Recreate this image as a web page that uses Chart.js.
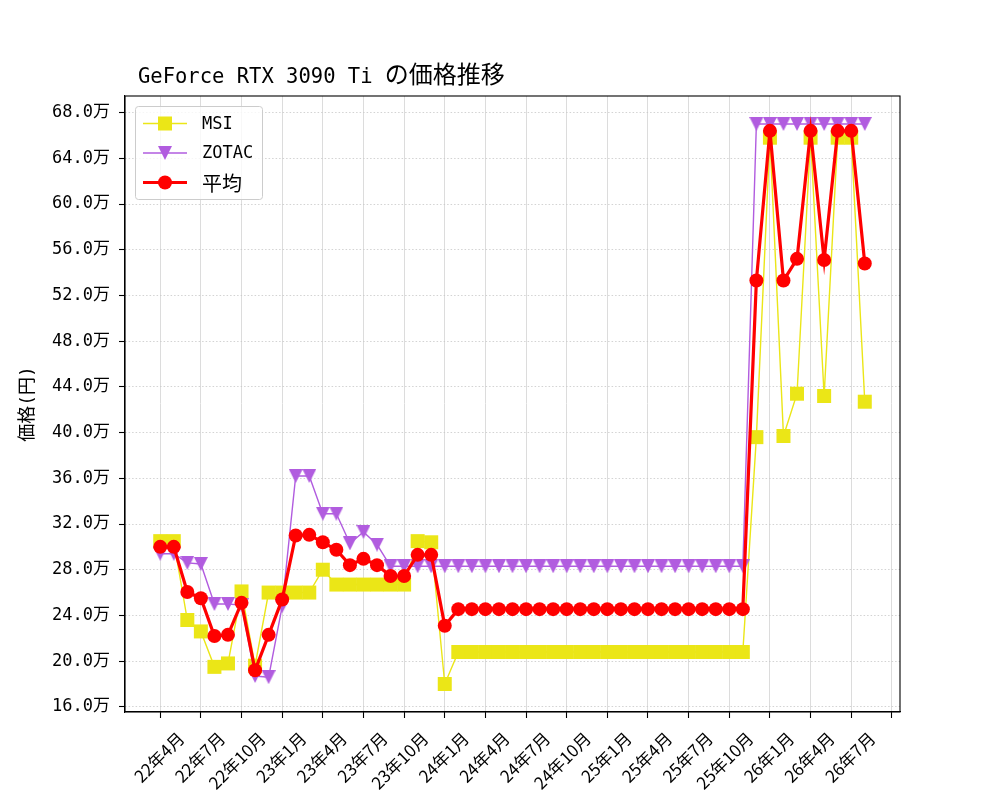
<!DOCTYPE html>
<html>
<head>
<meta charset="utf-8">
<script src="https://cdn.jsdelivr.net/npm/chart.js@4.4.1/dist/chart.umd.min.js"></script>
<style>
    html, body { margin: 0; padding: 0; background: #fff; }
</style>
</head>
<body>
<canvas id="priceChart" width="1000" height="800"></canvas>
<script>
// 月ごとのデータ（単位: 万円）
const months = [
    '2022-04', '2022-05', '2022-06', '2022-07', '2022-08', '2022-09', '2022-10', '2022-11', '2022-12',
    '2023-01', '2023-02', '2023-03', '2023-04', '2023-05', '2023-06', '2023-07', '2023-08', '2023-09',
    '2023-10', '2023-11', '2023-12', '2024-01', '2024-02', '2024-03', '2024-04', '2024-05', '2024-06',
    '2024-07', '2024-08', '2024-09', '2024-10', '2024-11', '2024-12', '2025-01', '2025-02', '2025-03',
    '2025-04', '2025-05', '2025-06', '2025-07', '2025-08', '2025-09', '2025-10', '2025-11', '2025-12',
    '2026-01', '2026-02', '2026-03', '2026-04', '2026-05', '2026-06', '2026-07', '2026-08'
];

const msiPrices = [
    30.5, 30.5, 23.6, 22.6, 19.5, 19.8, 26.1, 19.6, 26.0,
    26.0, 26.0, 26.0, 28.0, 26.7, 26.7, 26.7, 26.7, 26.7,
    26.7, 30.5, 30.4, 18.0, 20.8, 20.8, 20.8, 20.8, 20.8,
    20.8, 20.8, 20.8, 20.8, 20.8, 20.8, 20.8, 20.8, 20.8,
    20.8, 20.8, 20.8, 20.8, 20.8, 20.8, 20.8, 20.8, 39.6,
    65.8, 39.7, 43.4, 65.8, 43.2, 65.8, 65.8, 42.7
];

const zotacPrices = [
    29.4, 29.4, 28.6, 28.5, 25.0, 25.0, 24.9, 18.7, 18.6,
    24.8, 36.2, 36.2, 32.9, 32.9, 30.3, 31.3, 30.2, 28.3,
    28.3, 28.3, 28.3, 28.3, 28.3, 28.3, 28.3, 28.3, 28.3,
    28.3, 28.3, 28.3, 28.3, 28.3, 28.3, 28.3, 28.3, 28.3,
    28.3, 28.3, 28.3, 28.3, 28.3, 28.3, 28.3, 28.3, 67.0,
    67.0, 67.0, 67.0, 67.0, 67.0, 67.0, 67.0, 67.0
];

const avgPrices = [
    30.0, 30.0, 26.05, 25.5, 22.2, 22.3, 25.1, 19.2, 22.3,
    25.4, 31.0, 31.05, 30.4, 29.75, 28.4, 28.95, 28.4, 27.45,
    27.45, 29.3, 29.3, 23.1, 24.55, 24.55, 24.55, 24.55, 24.55,
    24.55, 24.55, 24.55, 24.55, 24.55, 24.55, 24.55, 24.55, 24.55,
    24.55, 24.55, 24.55, 24.55, 24.55, 24.55, 24.55, 24.55, 53.3,
    66.4, 53.3, 55.2, 66.4, 55.1, 66.4, 66.4, 54.8
];

const tickMonths = [
    '2022-04', '2022-07', '2022-10', '2023-01', '2023-04', '2023-07', '2023-10',
    '2024-01', '2024-04', '2024-07', '2024-10', '2025-01', '2025-04', '2025-07',
    '2025-10', '2026-01', '2026-04', '2026-07', '2026-10'
];
const tickLabels = [
    '22年4月', '22年7月', '22年10月', '23年1月', '23年4月', '23年7月', '23年10月',
    '24年1月', '24年4月', '24年7月', '24年10月', '25年1月', '25年4月', '25年7月',
    '25年10月', '26年1月', '26年4月', '26年7月', ''
];
const yTicks = [16, 20, 24, 28, 32, 36, 40, 44, 48, 52, 56, 60, 64, 68];

const chartTitle = 'GeForce RTX 3090 Ti の価格推移';
const yTitle = '価格(円)';

const MSI_COLOR = '#ebe617';
const ZOTAC_COLOR = '#b15cdf';
const AVG_COLOR = '#ff0000';
const MONO = '"DejaVu Sans Mono", "Noto Sans CJK JP"';
const CJK = '"Noto Sans CJK JP"';

const toIndex = s => {
    const [y, m] = s.split('-').map(Number);
    return (y - 2022) * 12 + (m - 4);
};
const toPoints = values => values.map((v, i) => ({ x: toIndex(months[i]), y: v }));

// matplotlib風の下向き三角マーカー
function makeTriangle(color, w, h) {
    const c = document.createElement('canvas');
    c.width = w;
    c.height = h;
    const g = c.getContext('2d');
    g.fillStyle = color;
    g.beginPath();
    g.moveTo(0, 0);
    g.lineTo(w, 0);
    g.lineTo(w / 2, h);
    g.closePath();
    g.fill();
    return c;
}
const triangle = makeTriangle(ZOTAC_COLOR, 14, 14);

function drawMixed(ctx, text, x, y, asciiFont, cjkFont) {
    for (const ch of text) {
        ctx.font = /[\x00-\x7f]/.test(ch) ? asciiFont : cjkFont;
        ctx.fillText(ch, x, y);
        x += ctx.measureText(ch).width;
    }
}

const decorPlugin = {
    id: 'decor',
    afterDraw(chart) {
        const { ctx, chartArea: a } = chart;
        ctx.save();
        // 枠
        ctx.strokeStyle = '#000';
        ctx.lineWidth = 1.1;
        ctx.strokeRect(a.left, a.top, a.right - a.left, a.bottom - a.top);

        // タイトル
        ctx.fillStyle = '#000';
        ctx.textBaseline = 'alphabetic';
        ctx.textAlign = 'left';
        drawMixed(ctx, chartTitle, 138, 83, '20.5px ' + MONO, '24px ' + CJK);

        // 凡例
        const bx = 135.5, by = 106.5, bw = 127, bh = 93;
        ctx.fillStyle = 'rgba(255,255,255,0.8)';
        ctx.strokeStyle = '#cccccc';
        ctx.lineWidth = 1;
        ctx.beginPath();
        ctx.roundRect(bx, by, bw, bh, 3);
        ctx.fill();
        ctx.stroke();

        const rows = [
            { label: 'MSI', color: MSI_COLOR, width: 1.4, marker: 'rect', y: 123.5 },
            { label: 'ZOTAC', color: ZOTAC_COLOR, width: 1.4, marker: 'tri', y: 153 },
            { label: '平均', color: AVG_COLOR, width: 3.2, marker: 'circle', y: 182.5 }
        ];
        rows.forEach(r => {
            ctx.strokeStyle = r.color;
            ctx.fillStyle = r.color;
            ctx.lineWidth = r.width;
            ctx.beginPath();
            ctx.moveTo(143, r.y);
            ctx.lineTo(187, r.y);
            ctx.stroke();
            if (r.marker === 'rect') {
                ctx.fillRect(158, r.y - 7, 14, 14);
            } else if (r.marker === 'tri') {
                ctx.drawImage(triangle, 165 - triangle.width / 2, r.y - triangle.height / 2);
            } else {
                ctx.beginPath();
                ctx.arc(165, r.y, 7, 0, Math.PI * 2);
                ctx.fill();
            }
            ctx.fillStyle = '#000';
            ctx.textBaseline = 'middle';
            drawMixed(ctx, r.label, 202, r.y + 1, '17px ' + MONO, '20px ' + CJK);
        });
        ctx.restore();
    }
};

const ctx = document.getElementById('priceChart').getContext('2d');
const priceChart = new Chart(ctx, {
    type: 'line',
    data: {
        datasets: [
            {
                label: 'MSI',
                data: toPoints(msiPrices),
                borderColor: MSI_COLOR,
                backgroundColor: MSI_COLOR,
                borderWidth: 1.4,
                pointStyle: 'rect',
                pointRadius: 9.9,
                pointBorderWidth: 0,
                tension: 0,
                order: 3
            },
            {
                label: 'ZOTAC',
                data: toPoints(zotacPrices),
                borderColor: ZOTAC_COLOR,
                backgroundColor: ZOTAC_COLOR,
                borderWidth: 1.4,
                pointStyle: triangle,
                pointRadius: 7,
                tension: 0,
                order: 2
            },
            {
                label: '平均',
                data: toPoints(avgPrices),
                borderColor: AVG_COLOR,
                backgroundColor: AVG_COLOR,
                borderWidth: 3.2,
                pointStyle: 'circle',
                pointRadius: 7,
                pointBorderWidth: 0,
                tension: 0,
                order: 1
            }
        ]
    },
    options: {
        responsive: false,
        animation: false,
        devicePixelRatio: 1,
        layout: {
            padding: { left: 12, top: 96, right: 100, bottom: 0 }
        },
        scales: {
            x: {
                type: 'linear',
                min: -2.6,
                max: 54.6,
                afterBuildTicks: scale => {
                    scale.ticks = tickMonths.map(m => ({ value: toIndex(m) }));
                },
                afterFit: scale => { scale.height = 88; },
                ticks: {
                    autoSkip: false,
                    minRotation: 45,
                    maxRotation: 45,
                    labelOffset: 21,
                    padding: 10,
                    color: '#000',
                    font: { family: CJK, size: 17 },
                    callback: (value, index) => tickLabels[index]
                },
                grid: {
                    color: '#dcdcdc',
                    lineWidth: 1,
                    tickColor: '#000',
                    tickLength: 6,
                    tickWidth: 1.1
                },
                border: { color: '#000', width: 1.1 }
            },
            y: {
                type: 'linear',
                min: 15.55,
                max: 69.45,
                afterBuildTicks: scale => {
                    scale.ticks = yTicks.map(v => ({ value: v }));
                },
                afterFit: scale => { scale.width = 113; },
                ticks: {
                    padding: 9,
                    color: '#000',
                    font: { family: MONO, size: 17 },
                    callback: v => v.toFixed(1) + '万'
                },
                grid: {
                    color: '#c8c8c8',
                    lineWidth: 0.8,
                    tickColor: '#000',
                    tickLength: 6,
                    tickWidth: 1.1
                },
                border: { color: '#000', width: 1.1, dash: [1.5, 2] },
                title: {
                    display: true,
                    text: yTitle,
                    color: '#000',
                    font: { family: MONO, size: 18 },
                    padding: { top: 6, bottom: 4 }
                }
            }
        },
        plugins: {
            legend: { display: false },
            tooltip: { enabled: true }
        }
    },
    plugins: [decorPlugin]
});
</script>
</body>
</html>
